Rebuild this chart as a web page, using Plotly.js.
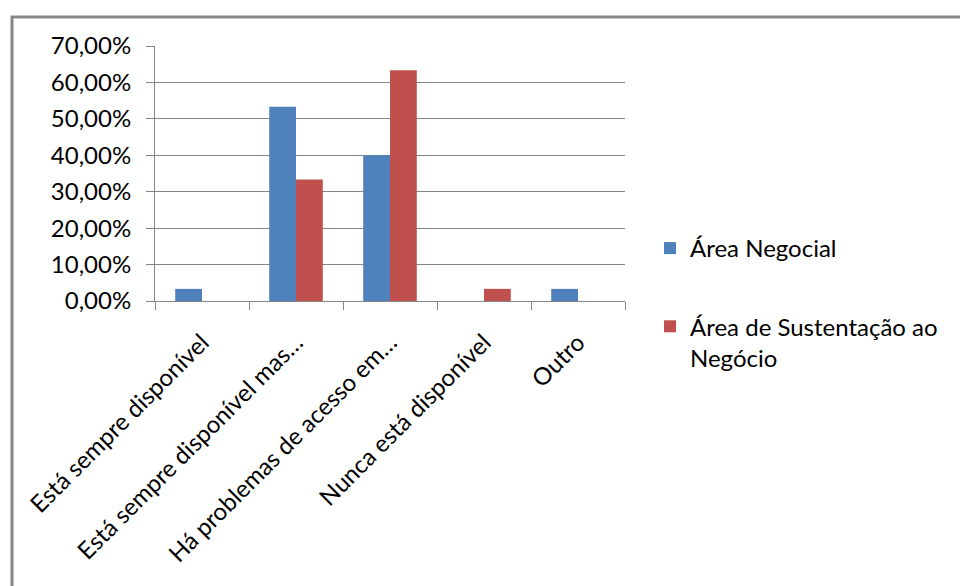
<!DOCTYPE html>
<html>
<head>
<meta charset="utf-8">
<script src="https://cdn.plot.ly/plotly-3.0.1.min.js"></script>
<style>
html,body{margin:0;padding:0;background:#fff;}
#chart{width:960px;height:586px;}
</style>
</head>
<body>
<div id="chart"></div>
<script>
var categories = [
  "Está sempre disponível",
  "Está sempre disponível mas…",
  "Há problemas de acesso em…",
  "Nunca está disponível",
  "Outro"
];
var seriesNames = ["Área Negocial", "Área de Sustentação ao<br>Negócio"];
var areaNegocial = [0.0333, 0.5333, 0.40, 0, 0.0333];
var areaSustentacao = [0, 0.3333, 0.6333, 0.0333, 0];
var yTicks = [0, 0.1, 0.2, 0.3, 0.4, 0.5, 0.6, 0.7];

var FONT = "Lato, 'Open Sans', sans-serif";
var L = 155, R = 625, T = 46, B = 301, W = 960, H = 586;
var pw = R - L, ph = B - T;
function px(x){ return (x - L) / pw; }
function py(y){ return (B - y) / ph; }

var traces = [
  {type: "bar", name: seriesNames[0], x: categories, y: areaNegocial,
   marker: {color: "#4F81BD"}, legendgroup: "a", hoverinfo: "x+y"},
  {type: "bar", name: seriesNames[1], x: categories, y: areaSustentacao,
   marker: {color: "#C0504D"}, legendgroup: "b", hoverinfo: "x+y"}
];

var layout = {
  width: W, height: H,
  margin: {l: L, r: W - R, t: T, b: H - B, pad: 0},
  paper_bgcolor: "#ffffff",
  plot_bgcolor: "#ffffff",
  separators: ",.",
  barmode: "group",
  bargap: 0.43,
  bargroupgap: 0,
  font: {family: FONT, size: 24, color: "#000000"},
  xaxis: {
    type: "category",
    tickangle: -45,
    ticks: "outside",
    tickson: "boundaries",
    ticklen: 8,
    tickcolor: "#868686",
    showline: true,
    linecolor: "#868686",
    linewidth: 1,
    showgrid: false,
    ticklabelstandoff: 17,
    tickfont: {family: FONT, size: 24, color: "#000000"},
    automargin: false
  },
  yaxis: {
    range: [0, 0.7],
    tickvals: yTicks,
    tickformat: ".2%",
    ticks: "outside",
    ticklen: 8,
    tickcolor: "#868686",
    showline: true,
    linecolor: "#868686",
    linewidth: 1,
    showgrid: true,
    gridcolor: "#868686",
    gridwidth: 1,
    zeroline: false,
    ticklabelstandoff: 10,
    tickfont: {family: FONT, size: 24, color: "#000000"},
    automargin: false
  },
  showlegend: true,
  legend: {
    x: px(650), y: py(226), xanchor: "left", yanchor: "top",
    font: {family: FONT, size: 24, color: "#000000"},
    traceorder: "grouped",
    tracegroupgap: 44,
    valign: "top",
    itemwidth: 30,
    bgcolor: "rgba(0,0,0,0)"
  },
  shapes: [
    {type: "rect", xref: "paper", yref: "paper",
     x0: px(12), x1: px(975), y0: py(600), y1: py(17),
     line: {color: "#878787", width: 3}, fillcolor: "rgba(0,0,0,0)", layer: "below"}
  ]
};

Plotly.newPlot("chart", traces, layout, {displayModeBar: false, staticPlot: true});
</script>
</body>
</html>
